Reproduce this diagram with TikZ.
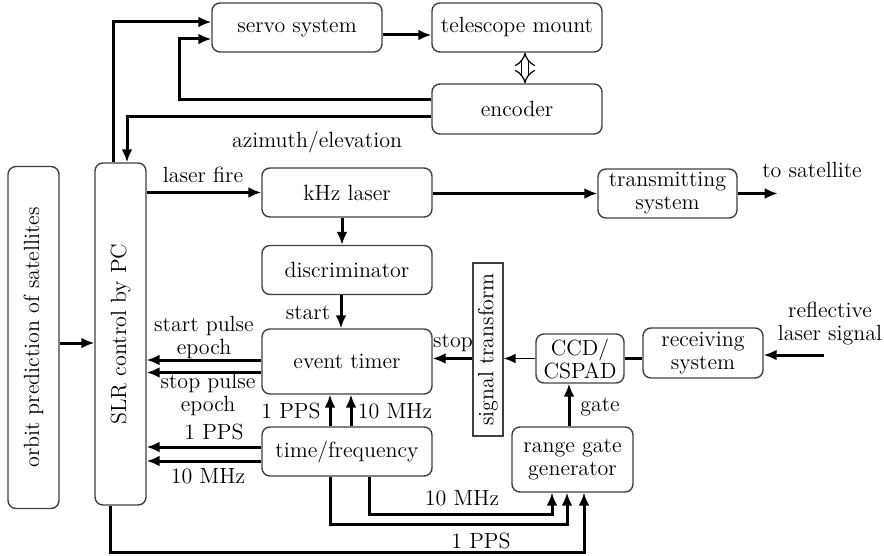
\documentclass[tikz,border=0pt]{standalone}
\usetikzlibrary{arrows.meta,calc}
\begin{document}
\begin{tikzpicture}[x=0.5pt,y=-0.5pt,
  font=\fontsize{11}{11.5}\selectfont,
  box/.style={draw=black!75, line width=0.7pt, rounded corners=4pt, align=center, minimum width=85pt, minimum height=24.5pt, inner sep=1pt},
  tallbox/.style={box, minimum width=25.5pt, minimum height=171pt},
  arrow/.style={-{Latex[length=6.5pt,width=5.5pt]}, line width=1.5pt},
  thinarrow/.style={-{Latex[length=6pt,width=5pt]}, line width=0.9pt},
  line/.style={line width=1.5pt},
  dbl/.style={double=white, double distance=3pt, line width=0.6pt, {Implies[length=3pt,width=9pt]}-{Implies[length=3pt,width=9pt]}},
  lbl/.style={inner sep=0pt, align=center}
]
\useasboundingbox (0,0) rectangle (884,556);
\node[tallbox] (orbit) at (33.5,337.5) {\rotatebox{90}{orbit prediction of satellites}};
\node[tallbox] (slr) at (120.5,334) {\rotatebox{90}{SLR control by PC}};
\node[box] (servo) at (297,27.5) {servo system};
\node[box] (tele) at (517,27.5) {telescope mount};
\node[box, minimum height=25pt] (enc) at (517,109) {encoder};
\node[box] (laser) at (347,192.5) {kHz laser};
\node[box] (disc) at (347,270) {discriminator};
\node[box, minimum height=32.5pt] (et) at (347,361.5) {event timer};
\node[box] (tf) at (347,451.5) {time/frequency};
\node[box, minimum width=69.5pt] (trans) at (667.5,193.5) {transmitting\\system};
\node[draw=black!75, line width=0.7pt, minimum width=15pt, minimum height=86.5pt, inner sep=0pt] (sig) at (488,349.5) {\rotatebox{90}{signal transform}};
\node[box, minimum width=44pt] (ccd) at (580,358.5) {CCD/\\CSPAD};
\node[box, minimum width=60pt, minimum height=25pt] (recv) at (703,353) {receiving\\system};
\node[box, minimum width=60.5pt, minimum height=32.5pt] (rgg) at (572.5,459.5) {range gate\\generator};

\node[lbl] (azel) at (317,142) {azimuth/elevation};
\node[lbl] (fire) at (203,175) {laser fire};
\node[lbl] (sat) at (812,170) {to satellite};
\node[lbl] (start) at (308,313) {start};
\node[lbl] (spe) at (204,337) {start pulse\\epoch};
\node[lbl] (ope) at (208,394) {stop pulse\\epoch};
\node[lbl] (pps1) at (291,411) {1 PPS};
\node[lbl] (mhz1) at (395,411) {10 MHz};
\node[lbl] (pps2) at (214,432) {1 PPS};
\node[lbl] (mhz2) at (208,476) {10 MHz};
\node[lbl] (stop) at (453,343) {stop};
\node[lbl] (refl) at (830,324) {reflective\\laser signal};
\node[lbl] (gate) at (600,407) {gate};
\node[lbl] (mhz3) at (462,498) {10 MHz};
\node[lbl] (pps3) at (481,541) {1 PPS};

\draw[arrow] ($(slr.north)+(-7.5,0)$) |- ($(servo.west)+(0,-5.5)$);
\draw[arrow] ($(enc.west)+(0,-9)$) -- ++(-252,0) |- ($(servo.west)+(0,11.5)$);
\draw[arrow] ($(enc.west)+(0,8)$) -| ($(slr.north)+(6.5,0)$);
\draw[arrow] ($(servo.east)+(0,7.5)$) -- ($(tele.west)+(0,7.5)$);
\draw[dbl] ($(tele.south)+(8,0)$) -- ($(enc.north)+(8,0)$);
\draw[arrow] (slr.east |- laser.west) -- (laser.west);
\draw[arrow] (laser.east |- trans.west) -- (trans.west);
\draw[arrow] (trans.east) -- ++(40,0);
\draw[arrow] ($(laser.south)+(-5,0)$) -- ($(disc.north)+(-5,0)$);
\draw[arrow] ($(disc.south)+(-6,0)$) -- ($(et.north)+(-6,0)$);
\draw[arrow] ($(et.west)+(0,-1.5)$) coordinate (e1) -- (e1 -| slr.east);
\draw[arrow] ($(et.west)+(0,11)$) coordinate (e2) -- (e2 -| slr.east);
\draw[arrow] ($(tf.north)+(-17,0)$) coordinate (t1) -- (t1 |- et.south);
\draw[arrow] ($(tf.north)+(4,0)$) coordinate (t2) -- (t2 |- et.south);
\draw[arrow] ($(tf.west)+(0,-4.5)$) coordinate (t3) -- (t3 -| slr.east);
\draw[arrow] ($(tf.west)+(0,9.5)$) coordinate (t4) -- (t4 -| slr.east);
\draw[arrow] ($(orbit.east)+(0,5.5)$) coordinate (o1) -- (o1 -| slr.west);
\draw[arrow] ($(recv.east)+(60,2)$) -- ($(recv.east)+(0,2)$);
\draw[line] (ccd.east) -- (ccd.east -| recv.west);
\draw[thinarrow] (ccd.west) -- (ccd.west -| sig.east);
\draw[arrow] (sig.west |- ccd.west) -- (et.east |- ccd.west);
\draw[arrow] ($(rgg.north)+(-3.5,0)$) coordinate (g1) -- (g1 |- ccd.south);
\draw[arrow] ($(tf.south)+(22,0)$) -- ++(0,38) -| ($(rgg.south)+(-20.5,0)$);
\draw[arrow] ($(tf.south)+(-17,0)$) -- ++(0,48) -| ($(rgg.south)+(-5.5,0)$);
\draw[arrow] ($(slr.south)+(-10.5,0)$) -- ++(0,47) -| ($(rgg.south)+(11.5,0)$);
\end{tikzpicture}
\end{document}
